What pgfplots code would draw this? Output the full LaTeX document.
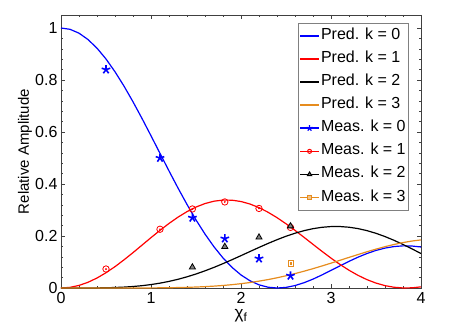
\documentclass[border=0pt]{standalone}
\usepackage{fontspec}
\setmainfont{Liberation Sans}
\usepackage{pgfplots}
\usepackage{pgfplotstable}
\pgfplotsset{compat=1.18}
\usetikzlibrary{plotmarks}
\definecolor{korange}{RGB}{230,140,30}

% predicted relative amplitudes (step 0.1)
\pgfplotstableread{
x    k0     k1     k2       k3
0.0  1.0000 0.0000 0.00000  0.00000
0.1  0.9950 0.0025 0.00000  0.00000
0.2  0.9801 0.0099 0.00002  0.00000
0.3  0.9557 0.0220 0.00013  0.00000
0.4  0.9224 0.0384 0.00039  0.00000
0.5  0.8808 0.0587 0.00094  0.00001
0.6  0.8317 0.0822 0.00191  0.00002
0.7  0.7765 0.1082 0.00346  0.00005
0.8  0.7162 0.1360 0.00575  0.00011
0.9  0.6521 0.1648 0.00895  0.00021
1.0  0.5855 0.1937 0.01320  0.00038
1.1  0.5178 0.2217 0.01866  0.00067
1.2  0.4504 0.2483 0.02538  0.00107
1.3  0.3845 0.2725 0.03349  0.00169
1.4  0.3214 0.2937 0.04301  0.00257
1.5  0.2619 0.3113 0.05387  0.00372
1.6  0.2074 0.3248 0.06605  0.00527
1.7  0.1584 0.3339 0.07936  0.00723
1.8  0.1156 0.3381 0.09370  0.00974
1.9  0.0794 0.3378 0.10883  0.01284
2.0  0.0501 0.3326 0.12447  0.01662
2.1  0.0278 0.3230 0.14033  0.02108
2.2  0.0122 0.3091 0.15610  0.02637
2.3  0.0031 0.2915 0.17131  0.03236
2.4  0.0000 0.2706 0.18576  0.03924
2.5  0.0023 0.2471 0.19900  0.04696
2.6  0.0094 0.2217 0.21068  0.05541
2.7  0.0203 0.1950 0.22052  0.06457
2.8  0.0342 0.1679 0.22820  0.07437
2.9  0.0503 0.1409 0.23348  0.08474
3.0  0.0677 0.1150 0.23629  0.09554
3.1  0.0853 0.0905 0.23639  0.10660
3.2  0.1025 0.0683 0.23377  0.11772
3.3  0.1185 0.0487 0.22848  0.12867
3.4  0.1327 0.0321 0.22062  0.13943
3.5  0.1445 0.0189 0.21031  0.14954
3.6  0.1535 0.0091 0.19785  0.15896
3.7  0.1594 0.0029 0.18344  0.16744
3.8  0.1621 0.0002 0.16753  0.17472
3.9  0.1614 0.0007 0.15047  0.18063
4.0  0.1577 0.0044 0.13257  0.18499
}\pred

% measured points
\pgfplotstableread{
x    y
0.50 0.840
1.10 0.500
1.46 0.270
1.82 0.190
2.20 0.113
2.55 0.047
}\measA
\pgfplotstableread{
x    y
0.50 0.073
1.10 0.226
1.46 0.304
1.82 0.331
2.20 0.306
2.55 0.233
}\measB
\pgfplotstableread{
x    y
1.46 0.080
1.82 0.159
2.20 0.195
2.55 0.238
}\measC
\pgfplotstableread{
x    y
2.55 0.095
}\measD

\begin{document}
\begin{tikzpicture}
  \begin{axis}[
      name=ax,
      scale only axis,
      width=360pt, height=273pt,
      xmin=0, xmax=4, ymin=0, ymax=1.05,
      xtick={0,1,2,3,4},
      ytick={0,0.2,0.4,0.6,0.8,1},
      minor x tick num=4,
      minor y tick num=4,
      tick align=inside,
      major tick length=4pt,
      minor tick length=2pt,
      axis line style={black!75},
      every tick/.style={black!75},
      /pgf/number format/assume math mode=true,
      tick label style={font=\fontsize{16}{16}\selectfont},
      xticklabel style={yshift=-1pt},
      xlabel={χ\textsubscript{f}},
      ylabel={Relative Amplitude},
      label style={font=\fontsize{15}{15}\selectfont},
      xlabel style={at={(axis description cs:0.5,-0.078)}, anchor=north,
        inner sep=0pt, font=\fontsize{17}{17}\selectfont},
      ylabel style={at={(axis description cs:-0.1,0.5)}, anchor=center},
      legend cell align=left,
      legend style={at={(rel axis cs:0.6595,0.972)}, anchor=north west,
        draw=gray, font=\fontsize{16}{16}\selectfont,
        inner xsep=1pt, inner ysep=5pt, row sep=7.1pt,
        nodes={inner ysep=0pt, inner xsep=1.5pt, text height=11.5pt, text depth=4.5pt}},
      legend image code/.code={
        \draw[#1, mark repeat=2, mark phase=2]
          plot coordinates {(0pt,0pt) (9.2pt,0pt) (18.4pt,0pt)};},
    ]
    \addlegendimage{draw=blue, line width=1.5pt}
    \addlegendentry{Pred. k = 0}
    \addlegendimage{draw=red, line width=1.5pt}
    \addlegendentry{Pred. k = 1}
    \addlegendimage{draw=black, line width=1.5pt}
    \addlegendentry{Pred. k = 2}
    \addlegendimage{draw=korange, line width=1.5pt}
    \addlegendentry{Pred. k = 3}
    \addlegendimage{draw=blue, line width=1.5pt, mark=star, mark size=3pt,
      mark options={draw=blue, line width=1.2pt}}
    \addlegendentry{Meas. k = 0}
    \addlegendimage{draw=red, line width=1.5pt, mark=o, mark size=2pt,
      mark options={draw=red, line width=1pt}}
    \addlegendentry{Meas. k = 1}
    \addlegendimage{draw=black, line width=1.5pt, mark=triangle*, mark size=2.5pt,
      mark options={draw=black, fill=gray, line width=1pt}}
    \addlegendentry{Meas. k = 2}
    \addlegendimage{draw=korange, line width=1.5pt, mark=square*, mark size=2pt,
      mark options={draw=korange, fill=korange!50, line width=1pt}}
    \addlegendentry{Meas. k = 3}

    \addplot[forget plot, blue, line width=1.2pt] table[x=x, y=k0] {\pred};
    \addplot[forget plot, red, line width=1.2pt] table[x=x, y=k1] {\pred};
    \addplot[forget plot, black, line width=1.2pt] table[x=x, y=k2] {\pred};
    \addplot[forget plot, korange, line width=1.2pt] table[x=x, y=k3] {\pred};

    \addplot[forget plot, only marks, blue, mark=star, mark size=4.5pt,
      mark options={line width=1.6pt}] table {\measA};
    \addplot[forget plot, only marks, red, mark=o, mark size=3.2pt,
      mark options={line width=0.8pt}] table {\measB};
    \addplot[forget plot, only marks, red, mark=*, mark size=0.7pt] table {\measB};
    \addplot[forget plot, only marks, black, mark=triangle*, mark size=3.5pt,
      mark options={fill=gray, line width=0.8pt}] table {\measC};
    \addplot[forget plot, only marks, korange, mark=square, mark size=2.6pt,
      mark options={line width=0.8pt}] table {\measD};
    \addplot[forget plot, only marks, korange, mark=square*, mark size=0.8pt] table {\measD};
  \end{axis}
  \pgfresetboundingbox
  \path[use as bounding box] ([xshift=-61pt,yshift=-47pt]ax.south west)
    rectangle ([xshift=42pt,yshift=15pt]ax.north east);
\end{tikzpicture}
\end{document}
